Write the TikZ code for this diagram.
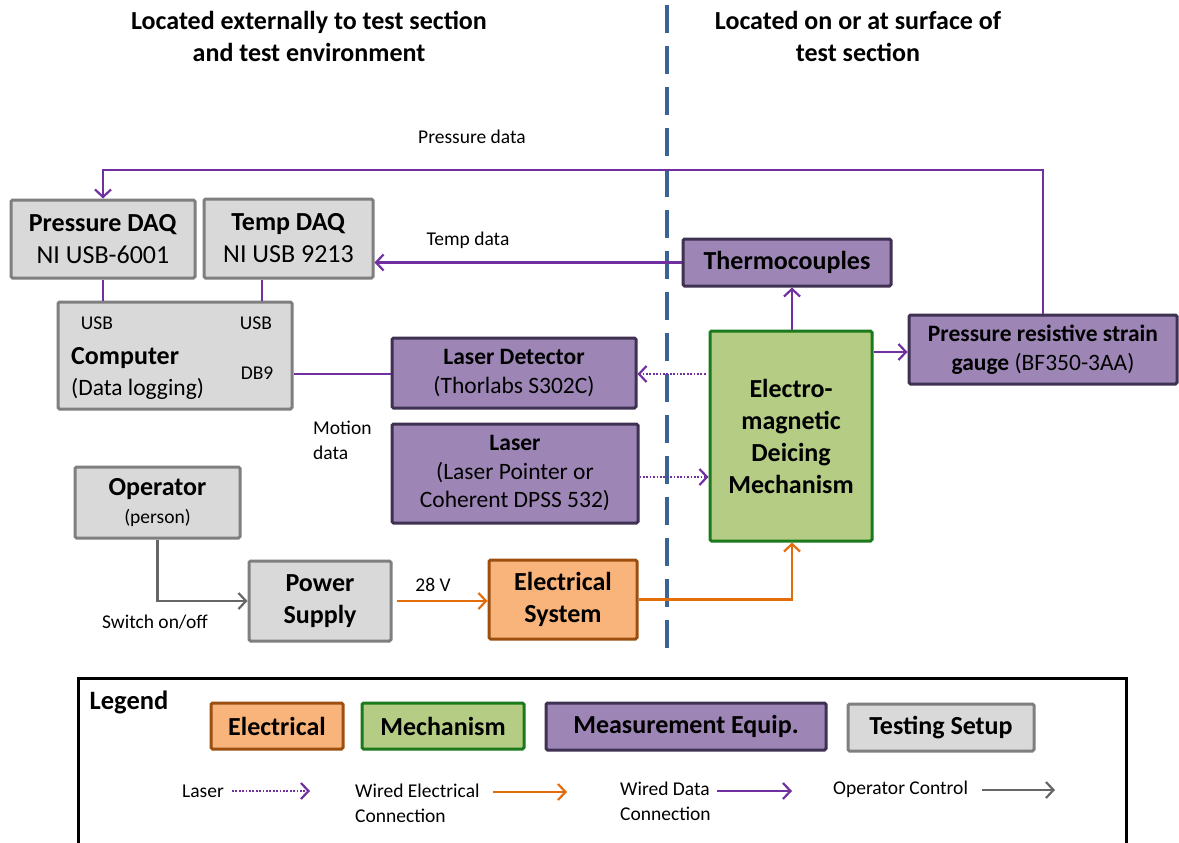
\documentclass[tikz,border=0pt]{standalone}
\usepackage{fontspec}
\setmainfont{Carlito}
\usetikzlibrary{arrows.meta}
\definecolor{grayfill}{HTML}{D9D9D9}
\definecolor{grayborder}{HTML}{7F7F7F}
\definecolor{purpfill}{HTML}{9D86B6}
\definecolor{purpborder}{HTML}{3F3151}
\definecolor{greenfill}{HTML}{B4CC84}
\definecolor{greenborder}{HTML}{1B7A1B}
\definecolor{orfill}{HTML}{F9B47B}
\definecolor{orborder}{HTML}{9C4F0F}
\definecolor{dataline}{HTML}{7030A0}
\definecolor{elecline}{HTML}{E46C0A}
\definecolor{opline}{HTML}{666666}
\definecolor{dashcol}{HTML}{3A6496}
\newcommand\fbig{\fontsize{26}{32}\selectfont}
\newcommand\fmid{\fontsize{23.5}{28.5}\selectfont}
\newcommand\fsml{\fontsize{19.5}{25}\selectfont}
\tikzset{
  box/.style={draw, line width=3pt, rounded corners=1.5pt, align=center, inner sep=0pt, font=\fbig},
  graybox/.style={box, fill=grayfill, draw=grayborder},
  purpbox/.style={box, fill=purpfill, draw=purpborder},
  greenbox/.style={box, fill=greenfill, draw=greenborder},
  orbox/.style={box, fill=orfill, draw=orborder},
  txt/.style={inner sep=0pt, font=\fsml},
  tip/.style={-{Straight Barb[length=7.5pt,width=16pt]}},
  dataw/.style={draw=dataline, line width=2.2pt},
  elecw/.style={draw=elecline, line width=2.2pt},
  opw/.style={draw=opline, line width=2.2pt},
  laserw/.style={draw=dataline, line width=2.2pt, dash pattern=on 1.7pt off 1.7pt},
}
\begin{document}
\begin{tikzpicture}[x=1pt,y=-1pt]
\useasboundingbox (0,0) rectangle (1179,843);
\fill[white] (0,0) rectangle (1179,843);
% titles
\node[txt, font=\fbig\bfseries, align=center] (t1) at (309,36.5) {Located externally to test section\\and test environment};
\node[txt, font=\fbig\bfseries, align=center] (t2) at (858,36.5) {Located on or at surface of\\test section};
% divider
\coordinate (dtop) at (667,5);
\coordinate (dbot) at (667,660);
\draw[dashcol, line width=3.5pt, dash pattern=on 28pt off 13pt] (dtop) -- (dbot);
% boxes
\node[graybox, minimum width=184pt, minimum height=78pt] (pdaq) at (103,239) {\textbf{Pressure DAQ}\\NI USB-6001};
\node[graybox, minimum width=169pt, minimum height=79pt] (tdaq) at (288.5,238.5) {\textbf{Temp DAQ}\\NI USB 9213};
\node[graybox, minimum width=234pt, minimum height=107pt] (comp) at (175,355.5) {};
\node[txt] (usb1) at (97,323) {USB};
\node[txt] (usb2) at (256,323) {USB};
\node[txt, anchor=west, font=\fbig\bfseries] (compt) at (71,358) {Computer};
\node[txt, anchor=west, font=\fmid] (compl) at (71,389) {(Data logging)};
\node[txt] (db9) at (257,373) {DB9};
\node[purpbox, minimum width=208pt, minimum height=47pt, font=\fbig\bfseries] (thermo) at (787,262.5) {Thermocouples};
\node[greenbox, minimum width=162pt, minimum height=210pt, font=\fbig\bfseries] (em) at (791,436) {Electro-\\magnetic\\Deicing\\Mechanism};
\node[purpbox, minimum width=268pt, minimum height=69pt, font=\fmid] (gauge) at (1043,349.5) {\textbf{Pressure resistive strain}\\\textbf{gauge} (BF350-3AA)};
\node[purpbox, minimum width=244pt, minimum height=70pt, font=\fmid] (ldet) at (514,373) {\textbf{Laser Detector}\\(Thorlabs S302C)};
\node[purpbox, minimum width=246pt, minimum height=99pt, font=\fmid] (laser) at (515,473.5) {\textbf{Laser}\\(Laser Pointer or\\Coherent DPSS 532)};
\node[graybox, minimum width=165pt, minimum height=71pt] (oper) at (157.5,502.5) {\textbf{Operator}\\[-4pt]{\fsml (person)}};
\node[graybox, minimum width=142pt, minimum height=80pt, font=\fbig\bfseries] (psu) at (320,601) {Power\\Supply};
\node[orbox, minimum width=148pt, minimum height=79pt, font=\fbig\bfseries] (elec) at (563,599.5) {Electrical\\System};
% labels
\node[txt] (lpd) at (472,137) {Pressure data};
\node[txt] (ltd) at (468,240) {Temp data};
\node[txt, align=left, anchor=west] (lmd) at (313,440.5) {Motion\\data};
\node[txt] (lsw) at (155,622) {Switch on/off};
\node[txt] (l28) at (433,585) {28 V};
% coordinates
\coordinate (ptop) at (0,170);
\coordinate (tx) at (262,0);
\coordinate (y352) at (0,352);
\coordinate (y374) at (0,374);
\coordinate (y477) at (0,477);
\coordinate (x792) at (792,0);
% connectors
\draw[dataw, tip] (gauge.north) -- (gauge.north |- ptop) -- (pdaq.north |- ptop) -- (pdaq.north);
\draw[dataw, tip] (thermo.west) -- (thermo.west -| tdaq.east);
\draw[dataw] (pdaq.south) -- (pdaq.south |- comp.north);
\draw[dataw] (tdaq.south -| tx) -- (comp.north -| tx);
\draw[dataw] (ldet.west |- y374) -- (comp.east |- y374);
\draw[dataw, tip] (em.north -| x792) -- (thermo.south -| x792);
\draw[dataw, tip] (em.east |- y352) -- (gauge.west |- y352);
\draw[laserw, tip] ([xshift=-3pt]em.west |- y374) -- (ldet.east |- y374);
\draw[laserw, tip] (laser.east |- y477) -- (em.west |- y477);
\draw[opw, tip] (oper.south) -- (oper.south |- psu.west) -- (psu.west);
\draw[elecw, tip] ([xshift=4pt]psu.east) -- (psu.east -| elec.west);
\draw[elecw, tip] (elec.east) -- (elec.east -| x792) -- (em.south -| x792);
% legend
\coordinate (lg1) at (78,850);
\coordinate (lg2) at (78,678);
\coordinate (lg3) at (1126,678);
\coordinate (lg4) at (1126,850);
\draw[black, line width=3pt] (lg1) -- (lg2) -- (lg3) -- (lg4);
\node[txt, font=\fontsize{26.5}{30}\selectfont\bfseries] (lgt) at (129,702) {Legend};
\node[orbox, minimum width=132pt, minimum height=46pt, font=\fbig\bfseries] (elecL) at (277,726) {Electrical};
\node[greenbox, minimum width=162pt, minimum height=46pt, font=\fbig\bfseries] (mechL) at (443,726) {Mechanism};
\node[purpbox, minimum width=280pt, minimum height=47pt, font=\fbig\bfseries] (measL) at (686,726.5) {Measurement Equip.};
\node[graybox, minimum width=186pt, minimum height=47pt, font=\fbig\bfseries] (testL) at (941,727.5) {Testing Setup};
\node[txt] (laserT) at (203,791) {Laser};
\coordinate (la1) at (232,791);
\coordinate (la2) at (310,791);
\draw[laserw, tip] (la1) -- (la2);
\node[txt, align=left, anchor=west] (elecT) at (355,803.5) {Wired Electrical\\Connection};
\coordinate (ea1) at (493,792);
\coordinate (ea2) at (567,792);
\draw[elecw, tip] (ea1) -- (ea2);
\node[txt, align=left, anchor=west] (dataT) at (620,801) {Wired Data\\Connection};
\coordinate (da1) at (717,791);
\coordinate (da2) at (792,791);
\draw[dataw, tip] (da1) -- (da2);
\node[txt, anchor=west] (opT) at (833,789) {Operator Control};
\coordinate (oa1) at (982,790);
\coordinate (oa2) at (1055,790);
\draw[opw, tip] (oa1) -- (oa2);
\end{tikzpicture}
\end{document}
